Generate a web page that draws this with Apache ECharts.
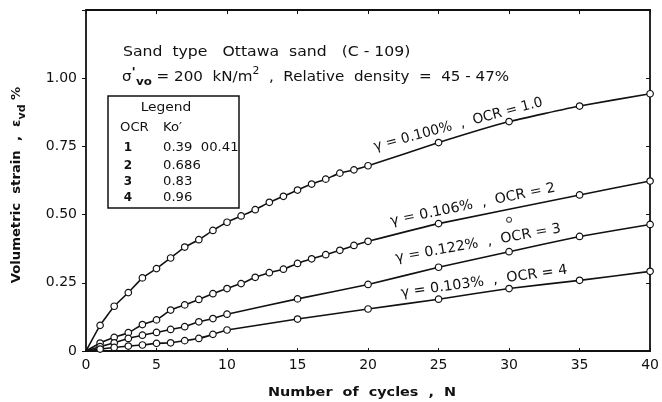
<!DOCTYPE html>
<html>
<head>
<meta charset="utf-8">
<script src="https://cdn.jsdelivr.net/npm/echarts@6/dist/echarts.min.js"></script>
<style>
  html, body { margin: 0; padding: 0; background: #fff; }
  #chart { width: 662px; height: 402px; }
</style>
</head>
<body>
<div id="chart"></div>
<script>
// Volumetric strain vs number of cycles, Ottawa sand, four OCR values
const cycles1 = [0, 1, 2, 3, 4, 5, 6, 7, 8, 9, 10, 11, 12, 13, 14, 15, 16, 17, 18, 19, 20, 25, 30, 35, 40];
const strain1 = [0, 0.094, 0.164, 0.214, 0.268, 0.302, 0.341, 0.381, 0.408, 0.442, 0.472, 0.495, 0.518, 0.545, 0.567, 0.590, 0.612, 0.630, 0.652, 0.664, 0.679, 0.764, 0.841, 0.898, 0.943];

const cycles2 = [0, 1, 2, 3, 4, 5, 6, 7, 8, 9, 10, 11, 12, 13, 14, 15, 16, 17, 18, 19, 20, 25, 35, 40];
const strain2 = [0, 0.029, 0.050, 0.067, 0.097, 0.114, 0.150, 0.169, 0.189, 0.210, 0.229, 0.247, 0.270, 0.287, 0.300, 0.321, 0.338, 0.353, 0.369, 0.387, 0.402, 0.467, 0.572, 0.623];

const cycles3 = [0, 1, 2, 3, 4, 5, 6, 7, 8, 9, 10, 15, 20, 25, 30, 35, 40];
const strain3 = [0, 0.016, 0.030, 0.046, 0.058, 0.068, 0.079, 0.089, 0.107, 0.119, 0.135, 0.191, 0.244, 0.307, 0.364, 0.420, 0.464];

const cycles4 = [0, 1, 2, 3, 4, 5, 6, 7, 8, 9, 10, 15, 20, 25, 30, 35, 40];
const strain4 = [0, 0.007, 0.013, 0.018, 0.022, 0.028, 0.030, 0.038, 0.046, 0.061, 0.077, 0.117, 0.154, 0.190, 0.229, 0.259, 0.292];

// isolated reading for OCR = 2 at N = 30
const looseCycles = [30];
const looseStrain = [0.481];

const yTickLabels = ['0', '0.25', '0.50', '0.75', '1.00', ''];

const curveNotes = ['γ = 0.100%  ,  OCR = 1.0', 'γ = 0.106%  ,  OCR = 2', 'γ = 0.122%  ,  OCR = 3', 'γ = 0.103%  ,  OCR = 4'];
const noteCycles = [20.55, 21.7, 22.05, 22.4];
const noteStrain = [0.722, 0.449, 0.314, 0.186];
const noteAngles = [15, 11.6, 10.3, 8];

const legendOCR = ['1', '2', '3', '4'];
const legendKo = ['0.39  00.41', '0.686', '0.83', '0.96'];

const FONT = '"DejaVu Sans", sans-serif';
const INK = '#111';

const chart = echarts.init(document.getElementById('chart'), null, { renderer: 'canvas' });

function pairs(xs, ys) {
  return xs.map((x, i) => x === 0 ? { value: [x, ys[i]], symbol: 'none' } : [x, ys[i]]);
}

function curve(name, xs, ys) {
  return {
    name, type: 'line', xAxisIndex: 0, yAxisIndex: 0,
    data: pairs(xs, ys),
    smooth: 0.12,
    symbol: 'circle', symbolSize: 6.5, showAllSymbol: true,
    lineStyle: { color: INK, width: 1.6 },
    itemStyle: { color: '#fff', borderColor: INK, borderWidth: 1.2 },
    z: 3, animation: false
  };
}

const axisBase = {
  type: 'value', min: 0,
  splitLine: { show: false },
  axisLine: { show: true, onZero: false, lineStyle: { color: INK, width: 1.8 } },
};

chart.setOption({
  backgroundColor: '#fff',
  animation: false,
  grid: { left: 86, right: 5, top: 10, bottom: 51, containLabel: false },
  xAxis: [
    Object.assign({}, axisBase, {
      position: 'bottom', max: 40, interval: 5,
      axisTick: { show: true, inside: true, length: 3, lineStyle: { color: INK, width: 1 } },
      axisLabel: { color: INK, fontFamily: FONT, fontSize: 14, margin: 7 }
    }),
    Object.assign({}, axisBase, {
      position: 'top', max: 40, interval: 5,
      axisTick: { show: true, inside: true, length: 4, lineStyle: { color: INK, width: 1 } },
      axisLabel: { show: false }
    })
  ],
  yAxis: [
    Object.assign({}, axisBase, {
      position: 'left', max: 1.25, interval: 0.25,
      axisTick: { show: true, inside: false, length: 4, lineStyle: { color: INK, width: 1 } },
      axisLabel: {
        color: INK, fontFamily: FONT, fontSize: 14, margin: 9,
        formatter: (v) => yTickLabels[Math.round(v / 0.25)]
      }
    }),
    Object.assign({}, axisBase, {
      position: 'right', max: 1.25, interval: 0.25,
      axisTick: { show: true, inside: true, length: 4, lineStyle: { color: INK, width: 1 } },
      axisLabel: { show: false }
    })
  ],
  series: [
    curve('OCR 1', cycles1, strain1),
    curve('OCR 2', cycles2, strain2),
    curve('OCR 3', cycles3, strain3),
    curve('OCR 4', cycles4, strain4),
    {
      name: 'OCR 2 single', type: 'scatter',
      data: looseCycles.map((x, i) => [x, looseStrain[i]]),
      symbol: 'circle', symbolSize: 5,
      itemStyle: { color: '#fff', borderColor: INK, borderWidth: 1.1 },
      z: 3
    }
  ]
});

// annotations
const txt = (x, y, text, extra, styleExtra) => Object.assign({
  type: 'text', x, y, z: 10,
  style: Object.assign({
    text, fill: INK, font: '14px ' + FONT,
    align: 'left', verticalAlign: 'middle',
    textAlign: 'left', textVerticalAlign: 'middle'
  }, styleExtra || {})
}, extra || {});

const richBase = {
  m: { fontSize: 14, fontFamily: FONT, lineHeight: 22, verticalAlign: 'middle', fill: INK, color: INK },
  pr: { fontSize: 13, fontFamily: FONT, lineHeight: 13, verticalAlign: 'top', fill: INK, color: INK, fontWeight: 'bold' },
  sub: { fontSize: 11, fontFamily: FONT, lineHeight: 11, verticalAlign: 'bottom', fill: INK, color: INK, fontWeight: 'bold' },
  sup: { fontSize: 10, fontFamily: FONT, lineHeight: 10, verticalAlign: 'top', fill: INK, color: INK }
};

const graphics = [];

// header lines
graphics.push(txt(123, 52, 'Sand  type   Ottawa  sand   (C - 109)', { scaleX: 1.12 }));
graphics.push(txt(122, 77, '{m|σ}{pr|\'}{sub|vo}{m| = 200  kN/m}{sup|2}{m|  ,  Relative  density  =  45 - 47%}',
  { scaleX: 1.08 }, { rich: richBase }));

// legend box
graphics.push({
  type: 'rect', z: 10,
  shape: { x: 108, y: 96, width: 131, height: 112 },
  style: { fill: '#fff', stroke: INK, lineWidth: 1.5 }
});
graphics.push(txt(166, 108, 'Legend', { scaleX: 1.15 }, { font: '12px ' + FONT, align: 'center', textAlign: 'center' }));
graphics.push(txt(120, 128, 'OCR', { scaleX: 1.1 }, { font: '12px ' + FONT }));
graphics.push(txt(163, 128, 'Ko\u2032', { scaleX: 1.1 }, { font: '12px ' + FONT }));
const rowY = [148, 165.5, 181.5, 197.5];
legendOCR.forEach((o, i) => {
  graphics.push(txt(128, rowY[i], o, {}, { font: 'bold 12px ' + FONT, align: 'center', textAlign: 'center' }));
  graphics.push(txt(163, rowY[i], legendKo[i], { scaleX: 1.1 }, { font: '12px ' + FONT }));
});

// axis titles
graphics.push(txt(362, 393, 'Number  of  cycles  ,  N', { scaleX: 1.2 },
  { font: 'bold 12px ' + FONT, align: 'center', textAlign: 'center' }));
graphics.push(txt(17, 185, '{t|Volumetric  strain  ,  ε}{s|vd}{t| %}', { rotation: Math.PI / 2, scaleX: 1.1 },
  {
    align: 'center', textAlign: 'center',
    rich: {
      t: { fontSize: 12, fontFamily: FONT, fontWeight: 'bold', lineHeight: 20, verticalAlign: 'middle', fill: INK, color: INK },
      s: { fontSize: 10, fontFamily: FONT, fontWeight: 'bold', lineHeight: 10, verticalAlign: 'bottom', fill: INK, color: INK }
    }
  }));

// curve notes, anchored in data coordinates
curveNotes.forEach((t, i) => {
  const p = chart.convertToPixel({ xAxisIndex: 0, yAxisIndex: 0 }, [noteCycles[i], noteStrain[i]]);
  graphics.push({
    type: 'text', x: p[0], y: p[1], z: 10,
    rotation: noteAngles[i] * Math.PI / 180,
    scaleX: i === 0 ? 0.98 : 1.02,
    style: {
      text: t, fill: INK, font: '14px ' + FONT,
      align: 'left', verticalAlign: 'bottom', textAlign: 'left', textVerticalAlign: 'bottom'
    }
  });
});

chart.setOption({ graphic: graphics });
</script>
</body>
</html>
